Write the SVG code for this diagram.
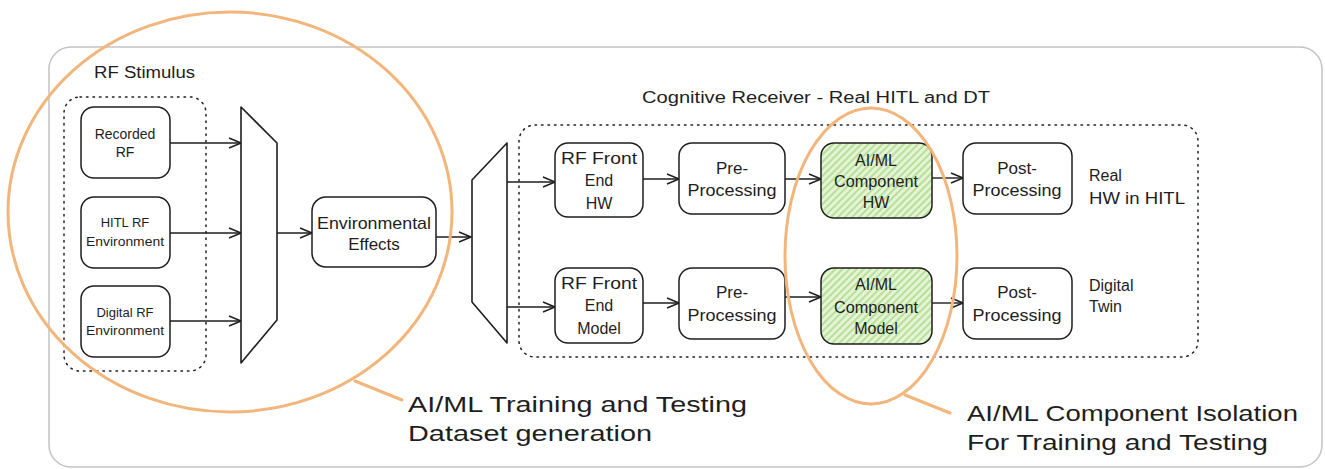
<svg xmlns="http://www.w3.org/2000/svg" width="1325" height="469" viewBox="0 0 1325 469">
  <style>
    .box { fill: #ffffff; stroke: #1e1e1e; stroke-width: 1.5; }
    .ai { fill: url(#hatch); stroke: #1e1e1e; stroke-width: 1.5; }
    .group { fill: none; stroke: #1e1e1e; stroke-width: 1.5; stroke-dasharray: 1.5 5; stroke-linecap: round; }
    .mux { fill: #ffffff; stroke: #1e1e1e; stroke-width: 1.6; stroke-linejoin: round; }
    .edge { fill: none; stroke: #1e1e1e; stroke-width: 1.4; marker-end: url(#arrow); }
    .halo { fill: none; stroke: #f2b57b; stroke-width: 3; }
    .lead { fill: none; stroke: #f2b57b; stroke-width: 3; stroke-linecap: round; }
    text { font-family: "Liberation Sans", "DejaVu Sans", sans-serif; fill: #1e1e1e; }
    .c { text-anchor: middle; }
    .s13 { font-size: 13px; }
    .s14 { font-size: 14px; }
    .s16 { font-size: 16px; }
    .s17 { font-size: 17px; }
    .big { font-size: 22px; }
  </style>
  <defs>
    <marker id="arrow" markerWidth="14" markerHeight="12" refX="13" refY="6" orient="auto" markerUnits="userSpaceOnUse">
      <path d="M1,1 L13,6 L1,11" fill="none" stroke="#1e1e1e" stroke-width="1.4" stroke-linejoin="round"/>
    </marker>
    <pattern id="hatch" width="5" height="5" patternUnits="userSpaceOnUse" patternTransform="rotate(45)">
      <rect width="5" height="5" fill="#e4f4d4"/>
      <line x1="1" y1="0" x2="1" y2="5" stroke="#a6d883" stroke-width="1.4"/>
    </pattern>
  </defs>

  <!-- outer frame -->
  <rect x="49" y="47" width="1273" height="420" rx="22" fill="#ffffff" stroke="#c4c4c4" stroke-width="1.5"/>

  <!-- group frames and titles -->
  <g id="rf-stimulus-group">
    <rect class="group" x="64" y="97" width="142" height="274" rx="16"/>
    <text class="s16" x="94" y="78" textLength="101" lengthAdjust="spacingAndGlyphs">RF Stimulus</text>
  </g>
  <g id="receiver-group">
    <rect class="group" x="519" y="125" width="679" height="232" rx="16"/>
    <text class="s16" x="642" y="103" textLength="348" lengthAdjust="spacingAndGlyphs">Cognitive Receiver - Real HITL and DT</text>
  </g>

  <!-- connectors -->
  <g id="connectors">
    <line class="edge" x1="170" y1="143" x2="241" y2="143"/>
    <line class="edge" x1="170" y1="233" x2="241" y2="233"/>
    <line class="edge" x1="170" y1="321" x2="241" y2="321"/>
    <line class="edge" x1="277" y1="233" x2="312" y2="233"/>
    <line class="edge" x1="436" y1="237" x2="471" y2="237"/>
    <line class="edge" x1="507" y1="182" x2="555" y2="182"/>
    <line class="edge" x1="507" y1="307" x2="555" y2="307"/>
    <line class="edge" x1="643" y1="179" x2="679" y2="179"/>
    <line class="edge" x1="643" y1="303" x2="679" y2="303"/>
    <line class="edge" x1="785" y1="179" x2="821" y2="179"/>
    <line class="edge" x1="785" y1="297" x2="821" y2="297"/>
    <line class="edge" x1="932" y1="178" x2="963" y2="178"/>
    <line class="edge" x1="932" y1="303" x2="963" y2="303"/>
  </g>

  <!-- stimulus sources -->
  <g id="recorded-rf">
    <rect class="box" x="81" y="107" width="89" height="71" rx="13"/>
    <text class="c s14" x="125" y="139">Recorded</text>
    <text class="c s14" x="125" y="157">RF</text>
  </g>
  <g id="hitl-rf-environment">
    <rect class="box" x="81" y="197" width="89" height="71" rx="13"/>
    <text class="c s13" x="125" y="227">HITL RF</text>
    <text class="c s13" x="125" y="246" textLength="78" lengthAdjust="spacingAndGlyphs">Environment</text>
  </g>
  <g id="digital-rf-environment">
    <rect class="box" x="81" y="286" width="89" height="71" rx="13"/>
    <text class="c s13" x="125" y="317">Digital RF</text>
    <text class="c s13" x="125" y="335" textLength="78" lengthAdjust="spacingAndGlyphs">Environment</text>
  </g>

  <!-- combiner / splitter -->
  <g id="combiner">
    <polygon class="mux" points="241,107 277,143 277,320 241,363"/>
  </g>
  <g id="environmental-effects">
    <rect class="box" x="312" y="197" width="124" height="70" rx="14"/>
    <text class="c s17" x="374" y="229" textLength="114" lengthAdjust="spacingAndGlyphs">Environmental</text>
    <text class="c s17" x="374" y="250">Effects</text>
  </g>
  <g id="splitter">
    <polygon class="mux" points="472,180 507,143 507,343 472,302"/>
  </g>

  <!-- real hardware chain -->
  <g id="rf-front-end-hw">
    <rect class="box" x="555" y="143" width="88" height="74" rx="13"/>
    <text class="c s16" x="599" y="164" textLength="76" lengthAdjust="spacingAndGlyphs">RF Front</text>
    <text class="c s16" x="599" y="186">End</text>
    <text class="c s16" x="599" y="209">HW</text>
  </g>
  <g id="pre-processing-hw">
    <rect class="box" x="679" y="143" width="106" height="71" rx="13"/>
    <text class="c s17" x="732" y="174">Pre-</text>
    <text class="c s17" x="732" y="196" textLength="89" lengthAdjust="spacingAndGlyphs">Processing</text>
  </g>
  <g id="aiml-component-hw">
    <rect class="ai" x="821" y="143" width="111" height="75" rx="13"/>
    <text class="c s16" x="876" y="166">AI/ML</text>
    <text class="c s16" x="876" y="187" textLength="84" lengthAdjust="spacingAndGlyphs">Component</text>
    <text class="c s16" x="876" y="208">HW</text>
  </g>
  <g id="post-processing-hw">
    <rect class="box" x="963" y="143" width="109" height="71" rx="13"/>
    <text class="c s17" x="1017" y="174">Post-</text>
    <text class="c s17" x="1017" y="196" textLength="89" lengthAdjust="spacingAndGlyphs">Processing</text>
  </g>
  <g id="label-real">
    <text class="s16" x="1089" y="181">Real</text>
    <text class="s16" x="1089" y="204" textLength="96" lengthAdjust="spacingAndGlyphs">HW in HITL</text>
  </g>

  <!-- digital twin chain -->
  <g id="rf-front-end-model">
    <rect class="box" x="555" y="268" width="88" height="75" rx="13"/>
    <text class="c s16" x="599" y="289" textLength="76" lengthAdjust="spacingAndGlyphs">RF Front</text>
    <text class="c s16" x="599" y="311">End</text>
    <text class="c s16" x="599" y="334">Model</text>
  </g>
  <g id="pre-processing-model">
    <rect class="box" x="679" y="268" width="106" height="71" rx="13"/>
    <text class="c s17" x="732" y="298">Pre-</text>
    <text class="c s17" x="732" y="321" textLength="89" lengthAdjust="spacingAndGlyphs">Processing</text>
  </g>
  <g id="aiml-component-model">
    <rect class="ai" x="821" y="268" width="111" height="76" rx="13"/>
    <text class="c s16" x="876" y="290">AI/ML</text>
    <text class="c s16" x="876" y="313" textLength="84" lengthAdjust="spacingAndGlyphs">Component</text>
    <text class="c s16" x="876" y="334">Model</text>
  </g>
  <g id="post-processing-model">
    <rect class="box" x="963" y="268" width="109" height="71" rx="13"/>
    <text class="c s17" x="1017" y="298">Post-</text>
    <text class="c s17" x="1017" y="321" textLength="89" lengthAdjust="spacingAndGlyphs">Processing</text>
  </g>
  <g id="label-digital-twin">
    <text class="s16" x="1089" y="291">Digital</text>
    <text class="s16" x="1089" y="312">Twin</text>
  </g>

  <!-- highlighted regions with call-outs -->
  <g id="dataset-generation-callout">
    <ellipse class="halo" cx="230" cy="212" rx="222" ry="200"/>
    <line class="lead" x1="355" y1="381" x2="402" y2="400"/>
    <text class="big" x="408" y="412" textLength="339" lengthAdjust="spacingAndGlyphs">AI/ML Training and Testing</text>
    <text class="big" x="408" y="441" textLength="244" lengthAdjust="spacingAndGlyphs">Dataset generation</text>
  </g>
  <g id="component-isolation-callout">
    <ellipse class="halo" cx="871" cy="256" rx="86" ry="148"/>
    <line class="lead" x1="905" y1="395" x2="950" y2="413"/>
    <text class="big" x="967" y="421" textLength="331" lengthAdjust="spacingAndGlyphs">AI/ML Component Isolation</text>
    <text class="big" x="967" y="450" textLength="301" lengthAdjust="spacingAndGlyphs">For Training and Testing</text>
  </g>
</svg>
